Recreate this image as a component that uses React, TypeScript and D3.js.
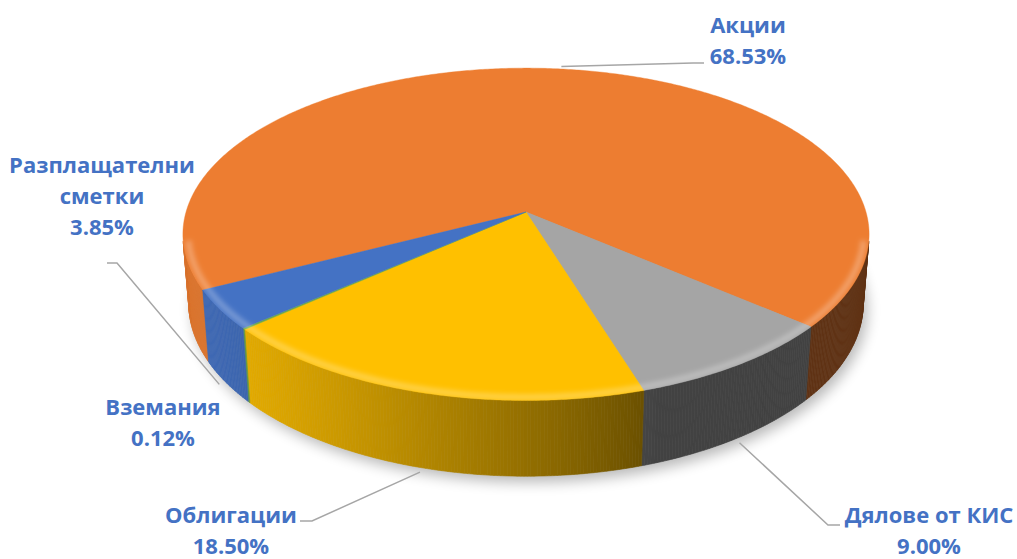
import React from "react";
import * as d3 from "d3";

const categories = ["Акции", "Дялове от КИС", "Облигации", "Вземания", "Разплащателни сметки"];
const values = [68.53, 9.0, 18.5, 0.12, 3.85];
const valueLabels = ["68.53%", "9.00%", "18.50%", "0.12%", "3.85%"];
const labelLines = [["Акции"], ["Дялове от КИС"], ["Облигации"], ["Вземания"], ["Разплащателни", "сметки"]];
const colors = ["#ED7D31", "#A5A5A5", "#FFC000", "#70AD47", "#4472C4"];

const W = 1017;
const H = 559;

// projection parameters (perspective 3D pie)
const CX = 526;
const CY = 212;
const F = 340;
const K = 0.153;
const SINP = 0.48;
const COSP = Math.sqrt(1 - SINP * SINP);
const DEPTH = 0.235;
const START = (243.3 * Math.PI) / 180;

const labelLayout = [
  { x: 748, y: 33, leader: [[704, 63], [693, 63]] },
  { x: 929, y: 523, leader: [[840, 525], [828, 525]] },
  { x: 231, y: 523, leader: [[300, 521], [312, 521]] },
  { x: 163, y: 415, leader: null },
  { x: 102, y: 173, leader: [[107, 263], [117, 263]] },
];

function proj(u: number, y: number, w: number): [number, number] {
  const yc = y * COSP + w * SINP;
  const zc = -y * SINP + w * COSP;
  const d = 1 + K * zc;
  return [CX + (F * u) / d, CY - (F * yc) / d];
}
const rim = (t: number, y: number, r = 1): [number, number] => proj(r * Math.sin(t), y, r * Math.cos(t));

const deg = Math.PI / 180;
function light(t: number) {
  const c = Math.cos(t - 250 * deg);
  return 0.4 + 0.52 * Math.max(0, c);
}
function shade(col: string, L: number) {
  const c = d3.rgb(col);
  return d3.rgb(c.r * L, c.g * L, c.b * L).formatHex();
}

export default function App() {
  const pie = d3
    .pie<number>()
    .sort(null)
    .startAngle(START)
    .endAngle(START + 2 * Math.PI);
  const arcs = pie(values);
  const line = d3.line();

  const step = 0.5 * deg;
  const sides: JSX.Element[] = [];
  const tops: JSX.Element[] = [];
  const visRanges = [
    [100 * deg, 260 * deg],
    [460 * deg, 620 * deg],
  ];
  arcs.forEach((a, i) => {
    visRanges.forEach(([v0, v1], r) => {
      const s = Math.max(a.startAngle, v0);
      const e = Math.min(a.endAngle, v1);
      if (e <= s) return;
      const n = Math.max(1, Math.ceil((e - s) / step));
      for (let j = 0; j < n; j++) {
        const t0 = s + ((e - s) * j) / n;
        const t1 = s + ((e - s) * (j + 1)) / n;
        const pts = [rim(t0, 0), rim(t1, 0), rim(t1, -DEPTH), rim(t0, -DEPTH)];
        const col = shade(colors[i], light((t0 + t1) / 2));
        sides.push(
          <path key={`s${i}-${r}-${j}`} d={line(pts as any) + "Z"} fill={col} stroke={col} strokeWidth={0.6} />
        );
      }
    });
    const n = Math.max(2, Math.ceil((a.endAngle - a.startAngle) / step));
    const pts: [number, number][] = [proj(0, 0, 0)];
    for (let j = 0; j <= n; j++) {
      const t = a.startAngle + ((a.endAngle - a.startAngle) * j) / n;
      pts.push(rim(t, 0));
    }
    tops.push(<path key={`t${i}`} d={line(pts) + "Z"} fill={colors[i]} stroke={colors[i]} strokeWidth={0.4} />);
  });

  // shadow outline
  const shadowPts: [number, number][] = [];
  for (let j = 0; j <= 360; j += 2) shadowPts.push(rim(j * deg, -DEPTH, 1.0));
  const rimFront: [number, number][] = [];
  for (let j = 100; j <= 260; j += 1) rimFront.push(rim(j * deg, 0, 0.985));
  const rimTop: [number, number][] = [];
  for (let j = 0; j <= 360; j += 2) rimTop.push(rim(j * deg, 0, 1));

  const leaders = arcs.map((a, i) => {
    const lay = labelLayout[i];
    if (!lay.leader) return null;
    const mid = (a.startAngle + a.endAngle) / 2;
    const front = Math.cos(mid) < -0.174;
    const end = rim(mid, front ? -DEPTH : 0, 1.02);
    const pts = [...(lay.leader as [number, number][]), end];
    return <path key={`l${i}`} d={line(pts) as string} fill="none" stroke="#A6A6A6" strokeWidth={1.5} />;
  });

  const labels = categories.map((c, i) => {
    const lay = labelLayout[i];
    const lines = [...labelLines[i], valueLabels[i]];
    return (
      <text
        key={`tx${i}`}
        x={lay.x}
        textAnchor="middle"
        fontFamily="'Open Sans', sans-serif"
        fontWeight={700}
        fontSize={22}
        fill="#4472C4"
      >
        {lines.map((l, k) => (
          <tspan key={k} x={lay.x} y={lay.y + k * 31}>
            {l}
          </tspan>
        ))}
      </text>
    );
  });

  return (
    <svg width={W} height={H} style={{ position: "absolute", left: 0, top: 0, background: "#fff" }}>
      <defs>
        <filter id="blur" x="-20%" y="-20%" width="140%" height="140%">
          <feGaussianBlur stdDeviation={7} />
        </filter>
        <filter id="blur2" x="-20%" y="-20%" width="140%" height="140%">
          <feGaussianBlur stdDeviation={2.5} />
        </filter>
        <clipPath id="topclip">
          <path d={line(rimTop) + "Z"} />
        </clipPath>
      </defs>
      <path d={line(shadowPts) + "Z"} fill="#000" opacity={0.28} filter="url(#blur)" transform="translate(4,6)" />
      {sides}
      {tops}
      <g clipPath="url(#topclip)">
        <path d={line(rimFront) as string} fill="none" stroke="#fff" strokeOpacity={0.28} strokeWidth={6} filter="url(#blur2)" />
      </g>
      {leaders}
      {labels}
    </svg>
  );
}
